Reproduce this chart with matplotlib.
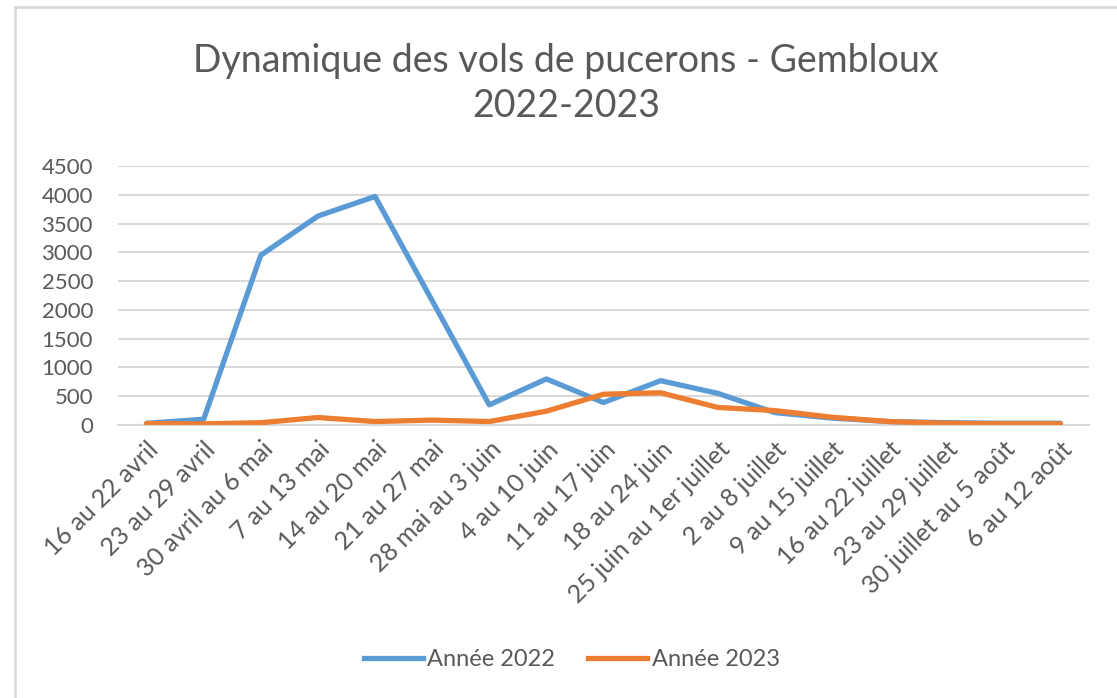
import matplotlib
matplotlib.use("Agg")
import matplotlib.pyplot as plt
from matplotlib.lines import Line2D

# ---- data ----
weeks = ["16 au 22 avril", "23 au 29 avril", "30 avril au 6 mai", "7 au 13 mai",
         "14 au 20 mai", "21 au 27 mai", "28 mai au 3 juin", "4 au 10 juin",
         "11 au 17 juin", "18 au 24 juin", "25 juin au 1er juillet", "2 au 8 juillet",
         "9 au 15 juillet", "16 au 22 juillet", "23 au 29 juillet",
         "30 juillet au 5 août", "6 au 12 août"]
annee_2022 = [30, 100, 2950, 3630, 3970, 2160, 350, 800, 390, 770, 550, 215,
              120, 60, 40, 30, 30]
annee_2023 = [25, 20, 40, 130, 60, 85, 60, 240, 535, 560, 305, 250,
              135, 60, 30, 20, 20]
series_labels = ["Année 2022", "Année 2023"]
yticks = [0, 500, 1000, 1500, 2000, 2500, 3000, 3500, 4000, 4500]

# ---- style ----
FONT = ["Lato", "DejaVu Sans"]
plt.rcParams["font.family"] = FONT
TXT = "#595959"
BLUE = "#5B9BD5"
ORANGE = "#ED7D31"
GRID = "#D9D9D9"

W, H = 1117, 698
fig = plt.figure(figsize=(W / 100, H / 100), dpi=100)
fig.patch.set_facecolor("white")

# chart-area border (left and top visible)
fig.add_artist(Line2D([15 / W, 15 / W], [0, 1 - 7 / H], transform=fig.transFigure,
                      color=GRID, lw=2))
fig.add_artist(Line2D([15 / W, 1], [1 - 7 / H, 1 - 7 / H], transform=fig.transFigure,
                      color=GRID, lw=2))

left, right = 118 / W, 1089 / W
bottom, top = (H - 425) / H, (H - 166) / H
ax = fig.add_axes([left, bottom, right - left, top - bottom])

x = list(range(len(weeks)))
ax.plot(x, annee_2022, color=BLUE, lw=3.8, solid_joinstyle="round",
        solid_capstyle="round", label=series_labels[0], zorder=3)
ax.plot(x, annee_2023, color=ORANGE, lw=3.8, solid_joinstyle="round",
        solid_capstyle="round", label=series_labels[1], zorder=4)

ax.set_xlim(-0.5, len(weeks) - 0.5)
ax.set_ylim(0, 4500)
ax.set_yticks(yticks)
ax.set_yticklabels([str(v) for v in yticks])
ax.set_xticks(x)
ax.set_xticklabels(weeks, rotation=45, ha="right", va="top", rotation_mode="anchor")

ax.grid(axis="y", color=GRID, lw=1.5)
ax.set_axisbelow(True)
for s in ["top", "right", "left"]:
    ax.spines[s].set_visible(False)
ax.spines["bottom"].set_color(GRID)
ax.spines["bottom"].set_linewidth(1.5)
ax.tick_params(axis="both", length=0, colors=TXT)
ax.tick_params(axis="y", pad=18, labelsize=16)
ax.tick_params(axis="x", pad=9, labelsize=18)

# title
cx = 566 / W
fig.text(cx, 1 - 72 / H, "Dynamique des vols de pucerons - Gembloux", ha="center",
         va="baseline", fontsize=27, color=TXT)
fig.text(cx, 1 - 117 / H, "2022-2023", ha="center", va="baseline", fontsize=27,
         color=TXT)

# legend
handles = [Line2D([], [], color=BLUE, lw=3.8), Line2D([], [], color=ORANGE, lw=3.8)]
fig.legend(handles, series_labels, loc="center", bbox_to_anchor=(572 / W, 38 / H),
           ncol=2, frameon=False, fontsize=17, labelcolor=TXT, handlelength=2.5,
           handletextpad=0.2, columnspacing=1.4)

fig.savefig("out.png", dpi=100)
